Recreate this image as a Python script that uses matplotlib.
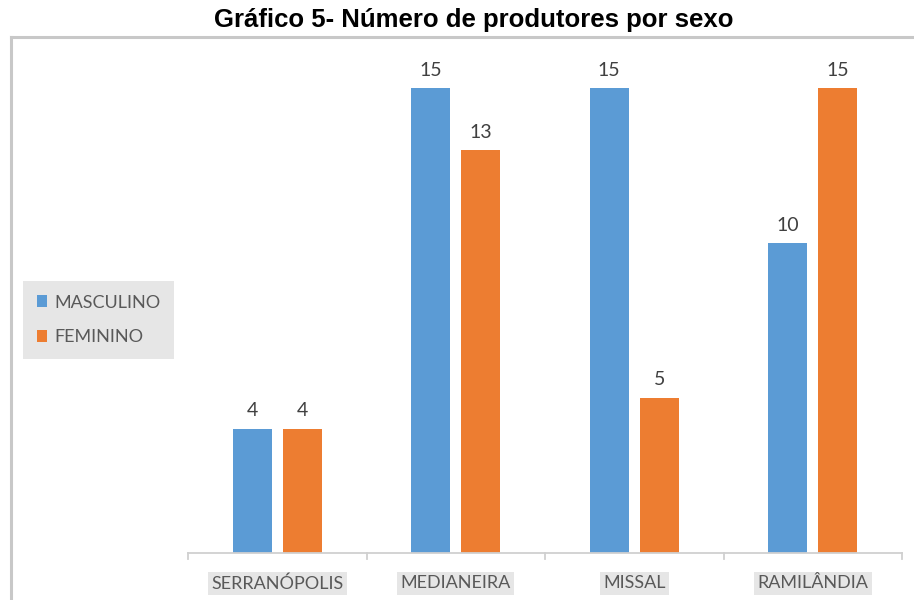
import numpy as np
import matplotlib.pyplot as plt
from matplotlib.lines import Line2D

municipios = ['SERRANÓPOLIS', 'MEDIANEIRA', 'MISSAL', 'RAMILÂNDIA']
masculino = [4, 15, 15, 10]
feminino = [4, 13, 5, 15]

azul = '#5B9BD5'
laranja = '#ED7D31'
cinza_txt = '#595959'

W, H = 914, 600
fig = plt.figure(figsize=(W / 100, H / 100), dpi=100)

# moldura cinza em volta do grafico
fig.add_artist(Line2D([11 / W, 11 / W], [0, 1 - 37 / H], color='#c8c8c8', lw=2.2))
fig.add_artist(Line2D([11 / W, 1], [1 - 37 / H, 1 - 37 / H], color='#c8c8c8', lw=2.2))

fig.text(0.518, 1 - 20 / H, 'Gráfico 5- Número de produtores por sexo',
         ha='center', va='center', fontsize=18.5, fontweight='bold',
         family='Liberation Sans', color='black')

ax = fig.add_axes([188 / W, 1 - 553 / H, (902 - 188) / W, (553 - 42) / H])
x = np.arange(len(municipios))
larg = 0.218
desl = 0.14
b1 = ax.bar(x - desl, masculino, larg, color=azul, label='MASCULINO')
b2 = ax.bar(x + desl, feminino, larg, color=laranja, label='FEMININO')

for barras in (b1, b2):
    for b in barras:
        ax.annotate(f'{int(b.get_height())}',
                    (b.get_x() + b.get_width() / 2, b.get_height()),
                    xytext=(0, 7), textcoords='offset points',
                    ha='center', va='bottom', fontsize=14,
                    family='Lato', color='#404040')

ax.set_xlim(-0.5, len(municipios) - 0.5)
ax.set_ylim(0, 16.5)
ax.set_yticks([])
for s in ('top', 'right', 'left'):
    ax.spines[s].set_visible(False)
ax.spines['bottom'].set_color('#d0d0d0')
ax.spines['bottom'].set_linewidth(1.3)

ax.set_xticks(x)
ax.set_xticklabels(municipios, family='Lato', fontsize=13, color=cinza_txt)
ax.tick_params(axis='x', length=0, pad=16)
for lbl in ax.get_xticklabels():
    lbl.set_bbox(dict(facecolor='#e6e6e6', edgecolor='none', pad=2.5))

# marcas de divisao entre categorias
for xb in np.arange(-0.5, len(municipios), 1):
    ax.plot([xb, xb], [0, -0.2], color='#d0d0d0', lw=1.3, clip_on=False)

leg = fig.legend(handles=[b1, b2], loc='center left',
                 bbox_to_anchor=(23 / W, 1 - 320 / H),
                 frameon=True, fancybox=False, facecolor='#e6e6e6',
                 edgecolor='none', framealpha=1,
                 prop={'family': 'Lato', 'size': 13},
                 handlelength=0.6, handleheight=0.6, handletextpad=0.4,
                 labelspacing=1.05, borderpad=0.75, borderaxespad=0,
                 labelcolor=cinza_txt)

fig.savefig('out.png', dpi=100)
